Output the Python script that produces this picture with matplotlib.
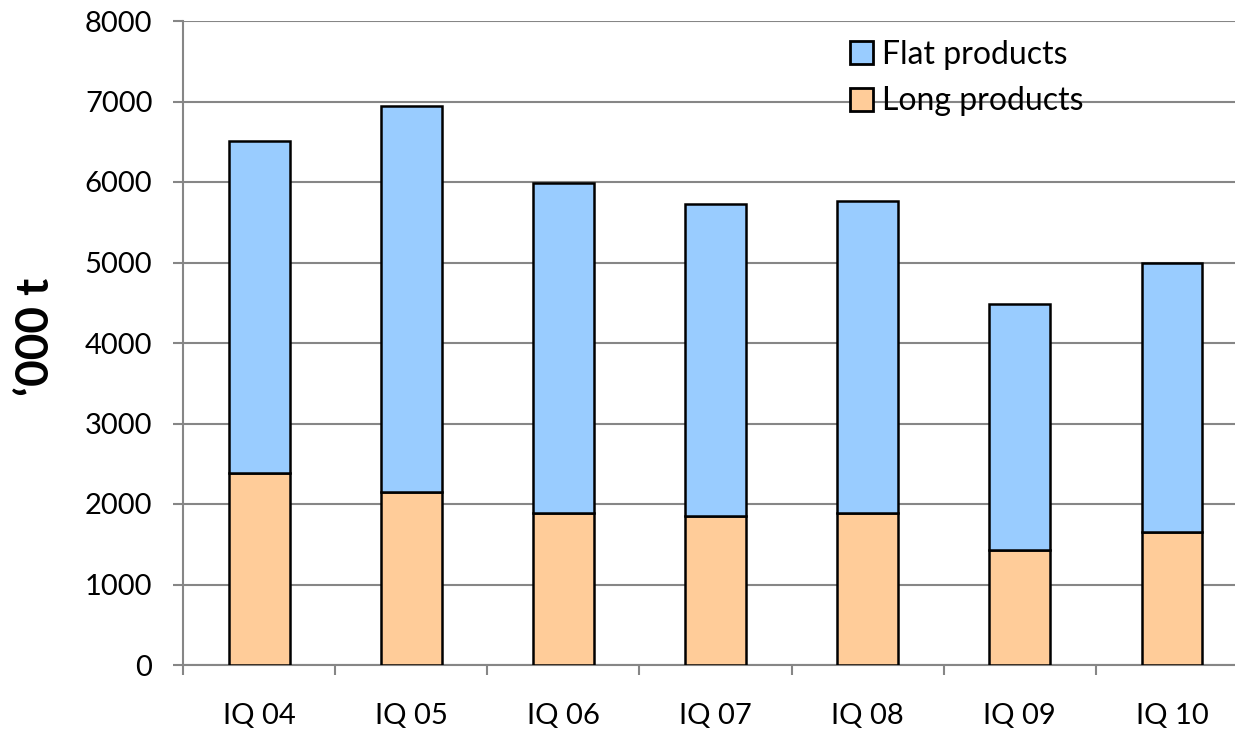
import matplotlib
matplotlib.use("Agg")
import matplotlib.pyplot as plt
import numpy as np

categories = ["IQ 04", "IQ 05", "IQ 06", "IQ 07", "IQ 08", "IQ 09", "IQ 10"]
long_products = [2380, 2150, 1885, 1855, 1885, 1425, 1655]
totals = [6510, 6945, 5990, 5730, 5765, 4480, 5000]
flat_products = [t - l for t, l in zip(totals, long_products)]
yticks = [0, 1000, 2000, 3000, 4000, 5000, 6000, 7000, 8000]

plt.rcParams['font.family'] = ['Lato', 'DejaVu Sans']

fig = plt.figure(figsize=(12.35, 7.33), dpi=100)
ax = fig.add_axes([183/1235, 68/733, 1065/1235, 644/733])

x = np.arange(len(categories))
w = 0.4
ax.bar(x, long_products, w, color='#FFCC99', edgecolor='black', linewidth=1.8,
       label='Long products', zorder=3)
ax.bar(x, flat_products, w, bottom=long_products, color='#99CCFF', edgecolor='black',
       linewidth=1.8, label='Flat products', zorder=3)

ax.set_xlim(-0.5, len(categories) - 0.5)
ax.set_ylim(0, 8000)
ax.set_yticks(yticks)
ax.set_yticklabels([str(v) for v in yticks], fontsize=21)
ax.set_xticks(x)
ax.set_xticklabels(categories, fontsize=21)
ax.set_xticks(np.arange(len(categories) + 1) - 0.5, minor=True)
ax.tick_params(axis='x', which='major', length=0, pad=27)
ax.tick_params(axis='x', which='minor', length=7, width=1.5, color='#868686', direction='out')
ax.tick_params(axis='y', length=7, width=1.5, color='#868686', direction='out', pad=15)

ax.yaxis.grid(True, color='#868686', linewidth=1.5, zorder=0)
ax.set_axisbelow(True)
for s in ['top', 'right']:
    ax.spines[s].set_visible(False)
for s in ['left', 'bottom']:
    ax.spines[s].set_color('#868686')
    ax.spines[s].set_linewidth(1.5)

fig.text(36/1235, 1 - 337/733, "\u2018000 t", fontsize=33, fontweight='bold',
         rotation=90, ha='center', va='center')

handles, labels = ax.get_legend_handles_labels()
leg = ax.legend(handles[::-1], labels[::-1], loc='upper left', bbox_to_anchor=(0.626, 0.971),
                frameon=False, fontsize=23, handlelength=0.72, handleheight=0.72,
                handletextpad=0.28, labelspacing=0.52, borderaxespad=0, borderpad=0)
for h in leg.legend_handles:
    h.set_linewidth(2)

fig.savefig("out.png", dpi=100)
